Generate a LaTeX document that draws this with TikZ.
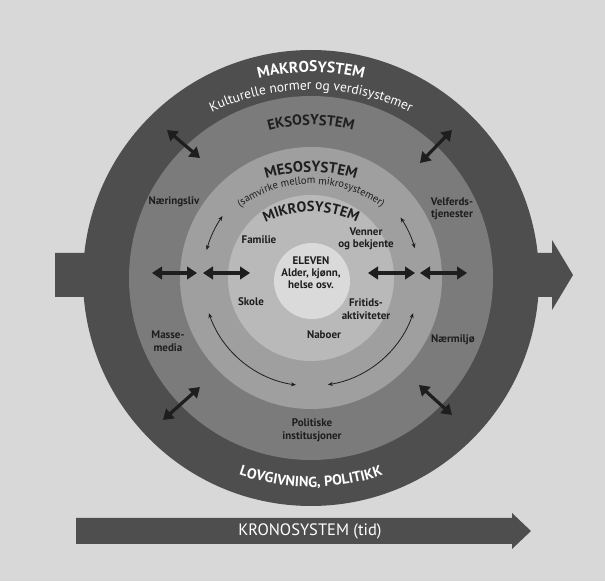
\documentclass[tikz,border=0pt]{standalone}
\usepackage{fontspec}
\setmainfont{PT Sans}
\usetikzlibrary{arrows.meta,decorations.text}
\definecolor{paper}{HTML}{D8D8D8}
\definecolor{makro}{HTML}{4E4E4E}
\definecolor{ekso}{HTML}{7B7B7B}
\definecolor{meso}{HTML}{9F9F9F}
\definecolor{mikro}{HTML}{B9B9B9}
\definecolor{elevenc}{HTML}{DADADA}
\definecolor{ink}{HTML}{1E1E1E}
\begin{document}
\begin{tikzpicture}[x=1pt,y=1pt,
  lbl/.style={font=\bfseries\fontsize{11}{12.5}\selectfont, text=ink, align=center, inner sep=0pt},
  bigarrow/.style={line width=3.2pt, draw=ink, {Triangle[length=10pt,width=12.5pt]}-{Triangle[length=10pt,width=12.5pt]}},
  thinarrow/.style={line width=0.8pt, draw=ink, {Stealth[length=5pt,width=4pt]}-{Stealth[length=5pt,width=4pt]}},
  arctext/.style={decorate, decoration={text along path, text align=center, text color=#1}},
]
\fill[paper] (0,0) rectangle (605,581);
\useasboundingbox (0,0) rectangle (605,581);
\coordinate (C) at (311,303);
% band arrow behind the circle
\fill[makro] (55,284) -- (552,284) -- (552,271) -- (573,306) -- (552,341) -- (552,328) -- (55,328) -- cycle;
% rings
\fill[makro] (C) circle[radius=228];
\fill[ekso] (C) circle[radius=182];
\fill[meso] (C) circle[radius=131];
\fill[mikro] (C) circle[radius=83];
\fill[elevenc] (312,300) circle[radius=38];
% curved headings
\path[arctext=white, decoration={text={|\bfseries\fontsize{15.5}{18}\selectfont|MAKROSYSTEM}}]
  (311,304) ++(150:205) arc[start angle=150, end angle=30, radius=205];
\path[arctext=white, decoration={text={|\fontsize{13.5}{16}\selectfont|Kulturelle normer og verdisystemer}}]
  (311,258) ++(150:233) arc[start angle=150, end angle=30, radius=233];
\path[arctext=ink, decoration={text={|\bfseries\fontsize{14.5}{17}\selectfont|EKSOSYSTEM}}]
  (311,296) ++(150:160) arc[start angle=150, end angle=30, radius=160];
\path[arctext=ink, decoration={text={|\bfseries\fontsize{15}{17}\selectfont|MESOSYSTEM}}]
  (311,259) ++(150:150) arc[start angle=150, end angle=30, radius=150];
\path[arctext=ink, decoration={text={|\fontsize{10.5}{12}\selectfont|(samvirke mellom mikrosystemer)}}]
  (311,277) ++(160:120) arc[start angle=160, end angle=20, radius=120];
\path[arctext=ink, decoration={text={|\bfseries\fontsize{14.5}{17}\selectfont|MIKROSYSTEM}}]
  (311,264) ++(160:105) arc[start angle=160, end angle=20, radius=105];
\path[arctext=white, decoration={text={|\bfseries\fontsize{14.5}{17}\selectfont|LOVGIVNING, POLITIKK}}]
  (311,314) ++(220:220) arc[start angle=220, end angle=320, radius=220];
% labels
\node[lbl] (naering) at (174,379) {Næringsliv};
\node[lbl] (velferd) at (452,372) {Velferds-\\tjenester};
\node[lbl] (masse) at (168,240) {Masse-\\media};
\node[lbl] (naermiljo) at (453,241) {Nærmiljø};
\node[lbl] (politiske) at (312,151) {Politiske\\institusjoner};
\node[lbl] (familie) at (259,341) {Familie};
\node[lbl] (venner) at (366,342) {Venner\\og bekjente};
\node[lbl] (skole) at (251,279) {Skole};
\node[lbl] (fritid) at (366,272) {Fritids-\\aktiviteter};
\node[lbl] (naboer) at (324,246) {Naboer};
\node[lbl, font=\bfseries\fontsize{11}{12}\selectfont] (eleven) at (311,308) {ELEVEN\\Alder, kjønn,\\helse osv.};
% straight double arrows
\coordinate (hA1) at (152,308); \coordinate (hA2) at (197,308);
\coordinate (hB1) at (203,308); \coordinate (hB2) at (250,308);
\coordinate (hC1) at (368,308); \coordinate (hC2) at (415,308);
\coordinate (hD1) at (420,308); \coordinate (hD2) at (467,308);
\draw[bigarrow] (hA1) -- (hA2);
\draw[bigarrow] (hB1) -- (hB2);
\draw[bigarrow] (hC1) -- (hC2);
\draw[bigarrow] (hD1) -- (hD2);
\coordinate (dUL1) at (167,451); \coordinate (dUL2) at (200,423);
\coordinate (dUR1) at (452,451); \coordinate (dUR2) at (420,418);
\coordinate (dLL1) at (200,194); \coordinate (dLL2) at (163,161);
\coordinate (dLR1) at (419,196); \coordinate (dLR2) at (452,166);
\draw[bigarrow] (dUL1) -- (dUL2);
\draw[bigarrow] (dUR1) -- (dUR2);
\draw[bigarrow] (dLL1) -- (dLL2);
\draw[bigarrow] (dLR1) -- (dLR2);
% meso arcs
\path (C) ++(145:108) coordinate (m1);
\path (C) ++(34:108) coordinate (m2);
\path (C) ++(199:108) coordinate (m3);
\path (C) ++(341:108) coordinate (m4);
\draw[thinarrow] (m1) arc[start angle=145, end angle=165, radius=108];
\draw[thinarrow] (m2) arc[start angle=34, end angle=16, radius=108];
\draw[thinarrow] (m3) arc[start angle=199, end angle=262, radius=108];
\draw[thinarrow] (m4) arc[start angle=341, end angle=279, radius=108];
% kronosystem arrow
\fill[makro] (76,37) -- (512,37) -- (512,32) -- (531,50) -- (512,68) -- (512,63) -- (76,63) -- cycle;
\node[font=\fontsize{16.5}{18}\selectfont, text=white, inner sep=0pt] (krono) at (310,50) {KRONOSYSTEM (tid)};
\end{tikzpicture}
\end{document}
